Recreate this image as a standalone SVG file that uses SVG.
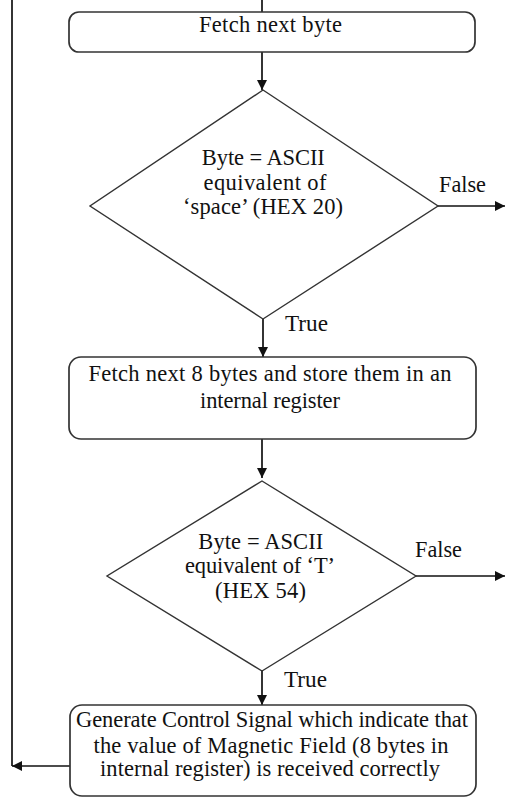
<svg xmlns="http://www.w3.org/2000/svg" width="505" height="798" viewBox="0 0 505 798" font-family="'Liberation Serif', 'Times New Roman', serif">
  <style>
    .box { fill: #ffffff; stroke: #333333; stroke-width: 1.7; }
    .dia { fill: #ffffff; stroke: #333333; stroke-width: 1.4; }
    .wire { fill: none; stroke: #111111; stroke-width: 1.7; }
    text { font-family: 'Liberation Serif', 'Times New Roman', serif; font-size: 22.5px; fill: #111111; }
    .c { text-anchor: middle; }
  </style>
  <defs>
    <marker id="arrow" viewBox="0 0 10 10" refX="10" refY="5" markerWidth="10" markerHeight="10" markerUnits="userSpaceOnUse" orient="auto">
      <path d="M0,0 L10,5 L0,10 z" fill="#111111"/>
    </marker>
  </defs>
  <rect width="505" height="798" fill="#ffffff"/>

  <!-- connectors and branch labels -->
  <g id="connectors">
    <line class="wire" x1="262" y1="0" x2="262" y2="12"/>
    <line class="wire" x1="262" y1="52" x2="262" y2="90" marker-end="url(#arrow)"/>
    <line class="wire" x1="438" y1="206" x2="505" y2="206" marker-end="url(#arrow)"/>
    <line class="wire" x1="263" y1="319" x2="263" y2="357" marker-end="url(#arrow)"/>
    <line class="wire" x1="262" y1="439" x2="262" y2="478" marker-end="url(#arrow)"/>
    <line class="wire" x1="416" y1="576" x2="505" y2="576" marker-end="url(#arrow)"/>
    <line class="wire" x1="262" y1="671" x2="262" y2="705" marker-end="url(#arrow)"/>
    <line class="wire" x1="12" y1="0" x2="12" y2="766"/>
    <line class="wire" x1="70" y1="766" x2="12" y2="766" marker-end="url(#arrow)"/>
    <text x="439" y="192" textLength="47" lengthAdjust="spacingAndGlyphs">False</text>
    <text x="285" y="331" textLength="43" lengthAdjust="spacingAndGlyphs">True</text>
    <text x="415" y="557" textLength="47" lengthAdjust="spacingAndGlyphs">False</text>
    <text x="284" y="687" textLength="43" lengthAdjust="spacingAndGlyphs">True</text>
  </g>

  <g id="fetch-byte">
    <rect class="box" x="69" y="12" width="406" height="40" rx="10"/>
    <text class="c" x="270.5" y="32" textLength="143">Fetch next byte</text>
  </g>

  <g id="check-space">
    <polygon class="dia" points="263,90 438,206 263,319 90,206"/>
    <text class="c" x="263.3" y="165" textLength="123">Byte = ASCII</text>
    <text class="c" x="265" y="190" textLength="123">equivalent of</text>
    <text class="c" x="263" y="214" textLength="160">‘space’ (HEX 20)</text>
  </g>

  <g id="fetch-8-bytes">
    <rect class="box" x="69" y="357" width="407" height="82" rx="12"/>
    <text class="c" x="270" y="381" textLength="363">Fetch next 8 bytes and store them in an</text>
    <text class="c" x="270" y="408" textLength="140">internal register</text>
  </g>

  <g id="check-t">
    <polygon class="dia" points="262,481 416,576 262,671 107,576"/>
    <text class="c" x="260.8" y="549" textLength="125">Byte = ASCII</text>
    <text class="c" x="260" y="573" textLength="150">equivalent of ‘T’</text>
    <text class="c" x="260.5" y="598" textLength="91">(HEX 54)</text>
  </g>

  <g id="control-signal">
    <rect class="box" x="70" y="705" width="406" height="91" rx="12"/>
    <text class="c" x="272" y="727" textLength="392">Generate Control Signal which indicate that</text>
    <text class="c" x="271" y="753" textLength="355">the value of Magnetic Field (8 bytes in</text>
    <text class="c" x="270" y="776" textLength="340">internal register) is received correctly</text>
  </g>
</svg>
